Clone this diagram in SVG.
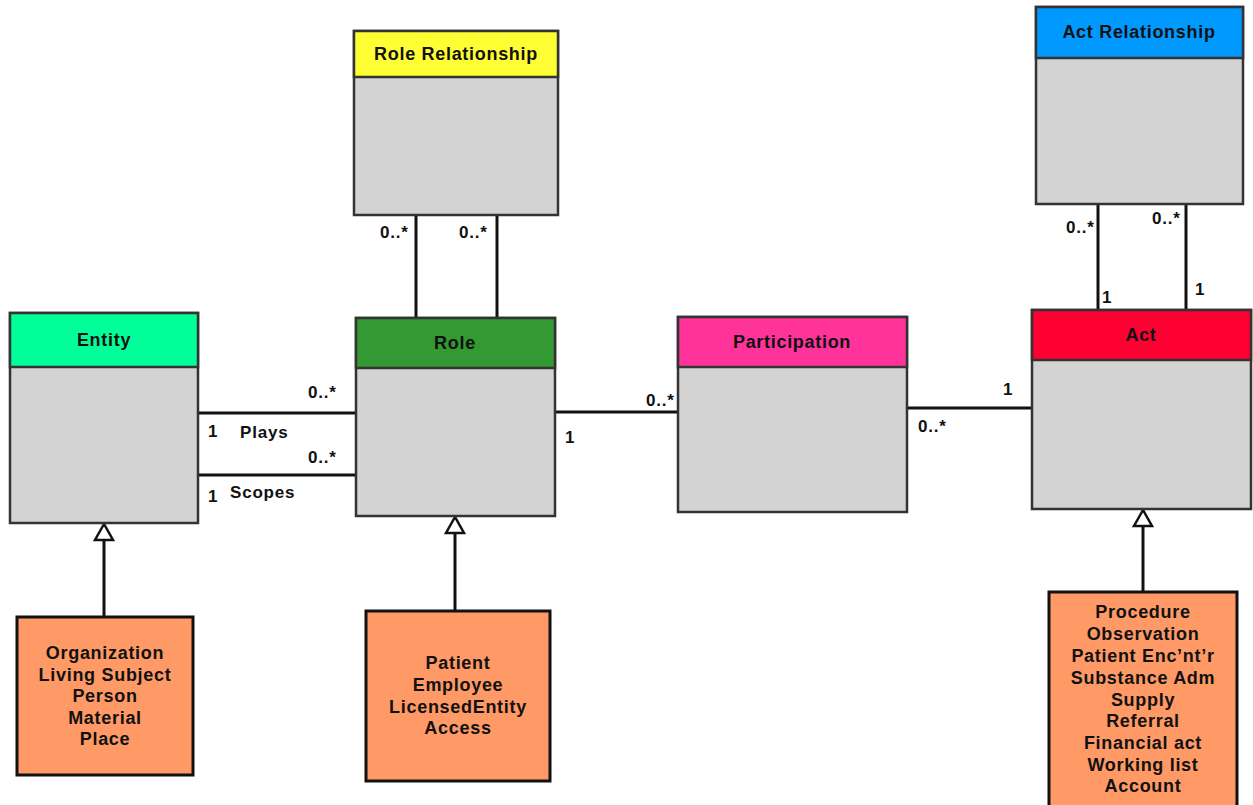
<svg xmlns="http://www.w3.org/2000/svg" width="1253" height="805" viewBox="0 0 1253 805">
  <defs>
    <style>
      .box { stroke: #333; stroke-width: 2.5; }
      .body { fill: #d3d3d3; }
      .sub { fill: #ff9966; stroke: #111; stroke-width: 3; }
      .title { font-family: "Liberation Sans", Arial, sans-serif; font-weight: bold; font-size: 18px; letter-spacing: 0.7px; fill: #111; text-anchor: middle; }
      .list { font-family: "Liberation Sans", Arial, sans-serif; font-weight: bold; font-size: 18px; letter-spacing: 0.7px; fill: #111; text-anchor: middle; }
      .lbl { font-family: "Liberation Sans", Arial, sans-serif; font-weight: bold; font-size: 17px; letter-spacing: 0.8px; fill: #111; }
      .conn { stroke: #111; stroke-width: 3; fill: none; }
      .tri { fill: #fff; stroke: #111; stroke-width: 2.5; }
    </style>
  </defs>
  <rect width="1253" height="805" fill="#fff"/>

  <!-- connectors -->
  <g id="connectors">
    <!-- Entity - Role -->
    <line class="conn" x1="198" y1="413" x2="356" y2="413"/>
    <line class="conn" x1="198" y1="475" x2="356" y2="475"/>
    <!-- Role - Role Relationship -->
    <line class="conn" x1="416" y1="215" x2="416" y2="318"/>
    <line class="conn" x1="497" y1="215" x2="497" y2="318"/>
    <!-- Role - Participation -->
    <line class="conn" x1="555" y1="412" x2="678" y2="412"/>
    <!-- Participation - Act -->
    <line class="conn" x1="907" y1="408" x2="1032" y2="408"/>
    <!-- Act - Act Relationship -->
    <line class="conn" x1="1098" y1="204" x2="1098" y2="310"/>
    <line class="conn" x1="1186" y1="204" x2="1186" y2="310"/>
    <!-- generalizations -->
    <line class="conn" x1="104" y1="540" x2="104" y2="617"/>
    <polygon class="tri" points="104,524 95,540 113,540"/>
    <line class="conn" x1="455" y1="533" x2="455" y2="611"/>
    <polygon class="tri" points="455,517 446,533 464,533"/>
    <line class="conn" x1="1143" y1="526" x2="1143" y2="592"/>
    <polygon class="tri" points="1143,510 1134,526 1152,526"/>

    <!-- multiplicities and role names -->
    <text class="lbl" x="308" y="398">0..*</text>
    <text class="lbl" x="208" y="437">1</text>
    <text class="lbl" x="240" y="438">Plays</text>
    <text class="lbl" x="308" y="463">0..*</text>
    <text class="lbl" x="208" y="502">1</text>
    <text class="lbl" x="230" y="498">Scopes</text>
    <text class="lbl" x="380" y="238">0..*</text>
    <text class="lbl" x="459" y="238">0..*</text>
    <text class="lbl" x="565" y="443">1</text>
    <text class="lbl" x="646" y="406">0..*</text>
    <text class="lbl" x="1003" y="395">1</text>
    <text class="lbl" x="918" y="432">0..*</text>
    <text class="lbl" x="1066" y="233">0..*</text>
    <text class="lbl" x="1152" y="224">0..*</text>
    <text class="lbl" x="1102" y="303">1</text>
    <text class="lbl" x="1195" y="295">1</text>
  </g>

  <g id="entity">
    <rect class="box body" x="10" y="313" width="188" height="210"/>
    <rect class="box" x="10" y="313" width="188" height="54" fill="#00ff99"/>
    <text class="title" x="104" y="346">Entity</text>
  </g>

  <g id="role">
    <rect class="box body" x="356" y="318" width="199" height="198"/>
    <rect class="box" x="356" y="318" width="199" height="50" fill="#339933"/>
    <text class="title" x="455" y="349">Role</text>
  </g>

  <g id="role-relationship">
    <rect class="box body" x="354" y="31" width="204" height="184"/>
    <rect class="box" x="354" y="31" width="204" height="46" fill="#ffff33"/>
    <text class="title" x="456" y="60">Role Relationship</text>
  </g>

  <g id="participation">
    <rect class="box body" x="678" y="317" width="229" height="195"/>
    <rect class="box" x="678" y="317" width="229" height="50" fill="#ff3399"/>
    <text class="title" x="792" y="348">Participation</text>
  </g>

  <g id="act">
    <rect class="box body" x="1032" y="310" width="219" height="199"/>
    <rect class="box" x="1032" y="310" width="219" height="50" fill="#ff0033"/>
    <text class="title" x="1141" y="341">Act</text>
  </g>

  <g id="act-relationship">
    <rect class="box body" x="1036" y="7" width="207" height="197"/>
    <rect class="box" x="1036" y="7" width="207" height="51" fill="#0099ff"/>
    <text class="title" x="1139" y="38">Act Relationship</text>
  </g>

  <g id="entity-kinds">
    <rect class="sub" x="17" y="617" width="176" height="158"/>
    <text class="list" x="105" y="659">Organization</text>
    <text class="list" x="105" y="681">Living Subject</text>
    <text class="list" x="105" y="702">Person</text>
    <text class="list" x="105" y="724">Material</text>
    <text class="list" x="105" y="745">Place</text>
  </g>

  <g id="role-kinds">
    <rect class="sub" x="366" y="611" width="184" height="170"/>
    <text class="list" x="458" y="669">Patient</text>
    <text class="list" x="458" y="691">Employee</text>
    <text class="list" x="458" y="713">LicensedEntity</text>
    <text class="list" x="458" y="734">Access</text>
  </g>

  <g id="act-kinds">
    <rect class="sub" x="1049" y="592" width="188" height="220"/>
    <text class="list" x="1143" y="618">Procedure</text>
    <text class="list" x="1143" y="640">Observation</text>
    <text class="list" x="1143" y="662">Patient Enc’nt’r</text>
    <text class="list" x="1143" y="684">Substance Adm</text>
    <text class="list" x="1143" y="706">Supply</text>
    <text class="list" x="1143" y="727">Referral</text>
    <text class="list" x="1143" y="749">Financial act</text>
    <text class="list" x="1143" y="771">Working list</text>
    <text class="list" x="1143" y="792">Account</text>
  </g>
</svg>
